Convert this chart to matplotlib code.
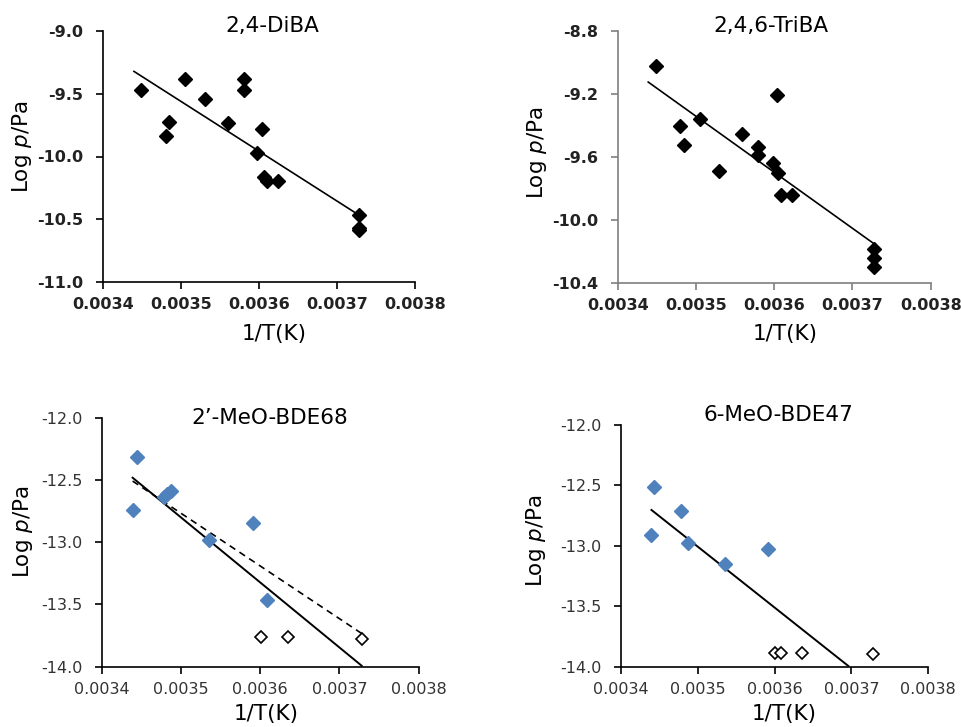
import matplotlib
matplotlib.use("Agg")
import matplotlib.pyplot as plt
from matplotlib.ticker import FormatStrFormatter

# ---------------- data ----------------
# Panel 1: 2,4-DiBA
diba_x = [0.003449, 0.003481, 0.003485, 0.003506, 0.003531, 0.003560, 0.003581, 0.003581,
          0.003604, 0.003598, 0.003606, 0.003610, 0.003624, 0.003728, 0.003728, 0.003728]
diba_y = [-9.469, -9.836, -9.722, -9.378, -9.543, -9.730, -9.383, -9.469,
          -9.778, -9.975, -10.161, -10.193, -10.198, -10.467, -10.568, -10.590]
diba_fit_x = [0.003440, 0.003728]
diba_fit_y = [-9.320, -10.467]

# Panel 2: 2,4,6-TriBA
triba_x = [0.003449, 0.003480, 0.003485, 0.003505, 0.003529, 0.003559, 0.003579, 0.003579,
           0.003598, 0.003603, 0.003605, 0.003609, 0.003623, 0.003727, 0.003727, 0.003727]
triba_y = [-9.021, -9.403, -9.526, -9.360, -9.687, -9.454, -9.538, -9.587,
           -9.640, -9.205, -9.704, -9.842, -9.842, -10.184, -10.241, -10.302]
triba_fit_x = [0.003439, 0.003727]
triba_fit_y = [-9.123, -10.150]

# Panel 3: 2'-MeO-BDE68
bde68_x = [0.003444, 0.003439, 0.003479, 0.003482, 0.003487, 0.003535, 0.003591, 0.003609]
bde68_y = [-12.313, -12.742, -12.635, -12.613, -12.586, -12.983, -12.849, -13.465]
bde68_open_x = [0.003601, 0.003635, 0.003728]
bde68_open_y = [-13.759, -13.759, -13.775]
bde68_fit_x = [0.003439, 0.003728]
bde68_fit_y = [-12.482, -13.992]
bde68_dash_x = [0.003439, 0.003728]
bde68_dash_y = [-12.509, -13.733]

# Panel 4: 6-MeO-BDE47
bde47_x = [0.003443, 0.003440, 0.003478, 0.003487, 0.003536, 0.003591]
bde47_y = [-12.510, -12.908, -12.709, -12.979, -13.150, -13.023]
bde47_open_x = [0.003600, 0.003608, 0.003636, 0.003728]
bde47_open_y = [-13.884, -13.884, -13.884, -13.898]
bde47_fit_x = [0.003440, 0.003696]
bde47_fit_y = [-12.703, -13.994]

x_ticks = [0.0034, 0.0035, 0.0036, 0.0037, 0.0038]
titles = ["2,4-DiBA", "2,4,6-TriBA", "2\u2019-MeO-BDE68", "6-MeO-BDE47"]

W, H = 961, 727
fig = plt.figure(figsize=(W / 100, H / 100), dpi=100)
fig.patch.set_facecolor("white")

def rect(l, r, t, b):
    return [l / W, 1 - b / H, (r - l) / W, (b - t) / H]

BLUE = "#4F81BD"

def style(ax, ylim, yticks, yfmt, bold, spine_col):
    ax.set_xlim(0.0034, 0.0038)
    ax.set_ylim(*ylim)
    ax.set_xticks(x_ticks)
    ax.set_yticks(yticks)
    ax.xaxis.set_major_formatter(FormatStrFormatter("%.4f"))
    ax.yaxis.set_major_formatter(FormatStrFormatter(yfmt))
    for s in ["top", "right"]:
        ax.spines[s].set_visible(False)
    for s in ["left", "bottom"]:
        ax.spines[s].set_color(spine_col)
        ax.spines[s].set_linewidth(1.2)
    ax.tick_params(direction="out", length=5, width=1.2, color=spine_col,
                   labelsize=11.5 if bold else 11.5,
                   labelcolor="#222222" if bold else "#333333")
    ax.tick_params(axis="y", pad=9)
    ax.tick_params(axis="x", pad=6)
    if bold:
        for lab in ax.get_xticklabels() + ax.get_yticklabels():
            lab.set_fontweight("bold")

def labels(ax, xfrac, xlab_y_px, ylab_x_px, yfrac, axrect_px):
    l, r, t, b = axrect_px
    fig.text((l + xfrac * (r - l)) / W, 1 - xlab_y_px / H, "1/T(K)",
             ha="center", va="center", fontsize=15.5)
    fig.text(ylab_x_px / W, 1 - (b - yfrac * (b - t)) / H, r"Log $\it{p}$/Pa",
             ha="center", va="center", rotation=90, fontsize=15.5)

# Panel 1
p1 = (102.7, 415.0, 31.3, 281.7)
ax1 = fig.add_axes(rect(*p1))
ax1.plot(diba_fit_x, diba_fit_y, color="black", lw=1.2)
ax1.plot(diba_x, diba_y, linestyle="none", marker="D", ms=7, color="black", clip_on=False)
style(ax1, (-11.0, -9.0), [-11.0, -10.5, -10.0, -9.5, -9.0], "%.1f", True, "black")
labels(ax1, 0.548, 334, 22, 0.538, p1)
fig.text(272 / W, 1 - 26 / H, titles[0], ha="center", va="center", fontsize=15.5)

# Panel 2
p2 = (617.7, 930.7, 31.3, 282.7)
ax2 = fig.add_axes(rect(*p2))
ax2.plot(triba_fit_x, triba_fit_y, color="black", lw=1.2)
ax2.plot(triba_x, triba_y, linestyle="none", marker="D", ms=7, color="black", clip_on=False)
style(ax2, (-10.4, -8.8), [-10.4, -10.0, -9.6, -9.2, -8.8], "%.1f", True, "#7f7f7f")
labels(ax2, 0.535, 334, 537, 0.516, p2)
fig.text(771 / W, 1 - 26 / H, titles[1], ha="center", va="center", fontsize=15.5)

# Panel 3
p3 = (101.7, 418.7, 417.7, 666.7)
ax3 = fig.add_axes(rect(*p3))
ax3.plot(bde68_fit_x, bde68_fit_y, color="black", lw=1.4)
ax3.plot(bde68_dash_x, bde68_dash_y, color="black", lw=1.2, linestyle=(0, (4, 3)))
ax3.plot(bde68_x, bde68_y, linestyle="none", marker="D", ms=7, color=BLUE, clip_on=False)
ax3.plot(bde68_open_x, bde68_open_y, linestyle="none", marker="D", ms=6.3,
         markerfacecolor="white", markeredgecolor="black", markeredgewidth=1.2, clip_on=False)
style(ax3, (-14.0, -12.0), [-14.0, -13.5, -13.0, -12.5, -12.0], "%.1f", False, "black")
labels(ax3, 0.52, 714, 23, 0.542, p3)
fig.text(270 / W, 1 - 418 / H, titles[2], ha="center", va="center", fontsize=15.5)

# Panel 4
p4 = (620.7, 928.3, 425.0, 666.7)
ax4 = fig.add_axes(rect(*p4))
ax4.plot(bde47_fit_x, bde47_fit_y, color="black", lw=1.4)
ax4.plot(bde47_x, bde47_y, linestyle="none", marker="D", ms=7, color=BLUE, clip_on=False)
ax4.plot(bde47_open_x, bde47_open_y, linestyle="none", marker="D", ms=6.3,
         markerfacecolor="white", markeredgecolor="black", markeredgewidth=1.2, clip_on=False)
style(ax4, (-14.0, -12.0), [-14.0, -13.5, -13.0, -12.5, -12.0], "%.1f", False, "black")
labels(ax4, 0.53, 714, 536, 0.52, p4)
fig.text(778 / W, 1 - 415 / H, titles[3], ha="center", va="center", fontsize=15.5)

fig.savefig("out.png", dpi=100)
